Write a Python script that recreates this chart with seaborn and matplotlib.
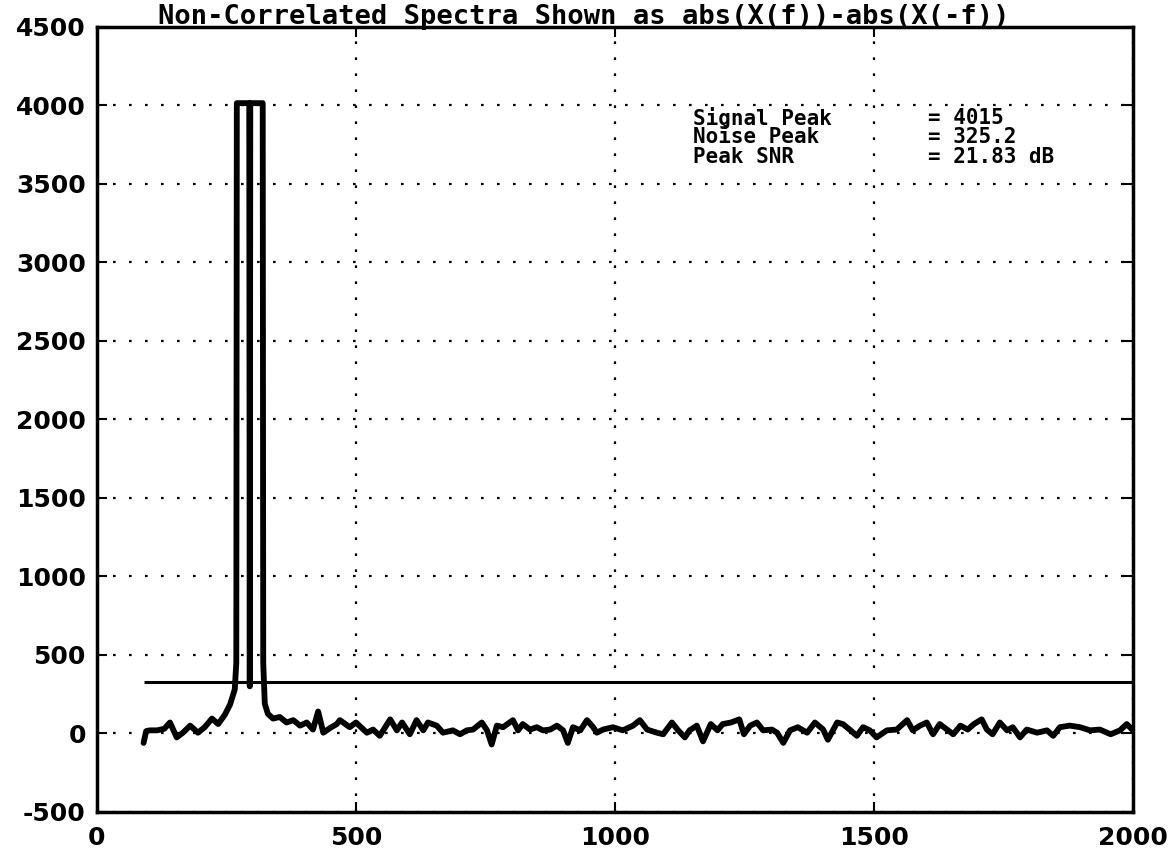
import numpy as np
import pandas as pd
import matplotlib
matplotlib.use("Agg")
import matplotlib.pyplot as plt
import seaborn as sns

# ---- data ----
freq = [90, 95, 102, 116, 130, 141, 154, 166, 180, 195, 208, 222, 234, 247, 257, 266,
        269, 270, 294, 295, 296, 320, 321, 324,
        330, 340, 353, 366, 379, 392, 405, 417, 427, 437, 450, 463, 469, 488, 500,
        521, 533, 546, 566, 579, 589, 604, 617, 630, 639, 656, 668, 687, 701, 714,
        726, 743, 753, 762, 772, 784, 803, 813, 822, 836, 849, 861, 875, 888, 900,
        909, 919, 933, 946, 958, 965, 977, 996, 1015, 1035, 1048, 1062, 1081, 1093,
        1110, 1122, 1135, 1144, 1158, 1170, 1185, 1198, 1208, 1224, 1240, 1249, 1261,
        1274, 1286, 1303, 1313, 1325, 1338, 1353, 1371, 1386, 1402, 1411, 1429, 1440,
        1453, 1467, 1479, 1492, 1505, 1525, 1544, 1564, 1575, 1589, 1602, 1614, 1627,
        1641, 1653, 1667, 1681, 1693, 1708, 1718, 1729, 1743, 1757, 1768, 1782, 1795,
        1815, 1834, 1846, 1859, 1878, 1898, 1917, 1936, 1957, 1975, 1988, 2000]
spectrum = [-60, 15, 20, 20, 30, 70, -25, 5, 50, 5, 40, 95, 60, 120, 185, 280,
            450, 4015, 4015, 300, 4015, 4015, 450, 190,
            125, 95, 105, 70, 85, 50, 70, 25, 140, 5, 35, 60, 85, 40, 70,
            5, 25, -15, 90, 20, 70, -5, 85, 20, 70, 50, 5, 20, -5, 20,
            25, 70, 20, -70, 50, 40, 85, 20, 60, 25, 40, 20, 25, 50, 20,
            -60, 40, 20, 85, 40, 5, 25, 40, 20, 50, 85, 25, 5, -5,
            70, 20, -25, 20, 50, -50, 60, 20, 60, 70, 90, -5, 50,
            70, 20, 25, 5, -60, 20, 40, 5, 70, 25, -40, 70, 60,
            25, -15, 40, 20, -25, 20, 25, 85, 20, 50, 70, -5, 60,
            25, -5, 50, 25, 60, 90, 25, -5, 70, 20, 40, -25, 25,
            5, 20, -15, 40, 50, 40, 20, 25, -5, 20, 60, 20]
noise_peak = 325.2
signal_peak = 4015
snr_db = 21.83
x_ticks = [0, 500, 1000, 1500, 2000]
y_ticks = [-500, 0, 500, 1000, 1500, 2000, 2500, 3000, 3500, 4000, 4500]
title = "Non-Correlated Spectra Shown as abs(X(f))-abs(X(-f))"
info_labels = ["Signal Peak", "Noise Peak", "Peak SNR"]
info_values = [f"= {signal_peak}", f"= {noise_peak}", f"= {snr_db} dB"]

df = pd.DataFrame({"freq": freq, "spectrum": spectrum})

sns.set_style("white")
plt.rcParams["font.family"] = ["DejaVu Sans", "DejaVu Sans Mono"]
plt.rcParams["text.color"] = "black"
plt.rcParams["xtick.color"] = "black"
plt.rcParams["ytick.color"] = "black"
plt.rcParams["axes.labelcolor"] = "black"

fig = plt.figure(figsize=(11.71, 8.49), dpi=100)
ax = fig.add_axes([0.0828, 0.0436, 0.8847, 0.9246])

sns.lineplot(data=df, x="freq", y="spectrum", estimator=None, sort=False,
             color="black", linewidth=4.2, ax=ax)
ax.hlines(noise_peak, xmin=freq[0], xmax=x_ticks[-1], color="black", linewidth=2.2)

ax.set_xlim(x_ticks[0], x_ticks[-1])
ax.set_ylim(y_ticks[0], y_ticks[-1])
ax.set_xticks(x_ticks)
ax.set_yticks(y_ticks)
ax.set_xticklabels([str(v) for v in x_ticks], fontsize=18, fontweight="bold", color="black")
ax.set_yticklabels([str(v) for v in y_ticks], fontsize=18, fontweight="bold", color="black")
ax.set_xlabel("")
ax.set_ylabel("")
ax.tick_params(axis="both", direction="in", length=7, width=1.5, color="black",
               labelcolor="black", top=True, right=True, bottom=True, left=True)
ax.tick_params(axis="x", pad=10)
ax.tick_params(axis="y", pad=8)

ax.grid(True, color="black", linestyle=(0, (1.2, 6)), linewidth=1.6)
for s in ax.spines.values():
    s.set_color("black")
    s.set_linewidth(2.5)

ax.set_title(title, fontsize=19.5, fontweight="bold", family="DejaVu Sans Mono",
             pad=2, x=0.47, color="black")

for i, (lab, val) in enumerate(zip(info_labels, info_values)):
    yy = 0.884 - i * 0.0245
    ax.text(0.575, yy, lab, transform=ax.transAxes, fontsize=15, fontweight="bold",
            family="DejaVu Sans Mono", va="center", ha="left", color="black")
    ax.text(0.802, yy, val, transform=ax.transAxes, fontsize=15, fontweight="bold",
            family="DejaVu Sans Mono", va="center", ha="left", color="black")

fig.savefig("out.png", dpi=100)
